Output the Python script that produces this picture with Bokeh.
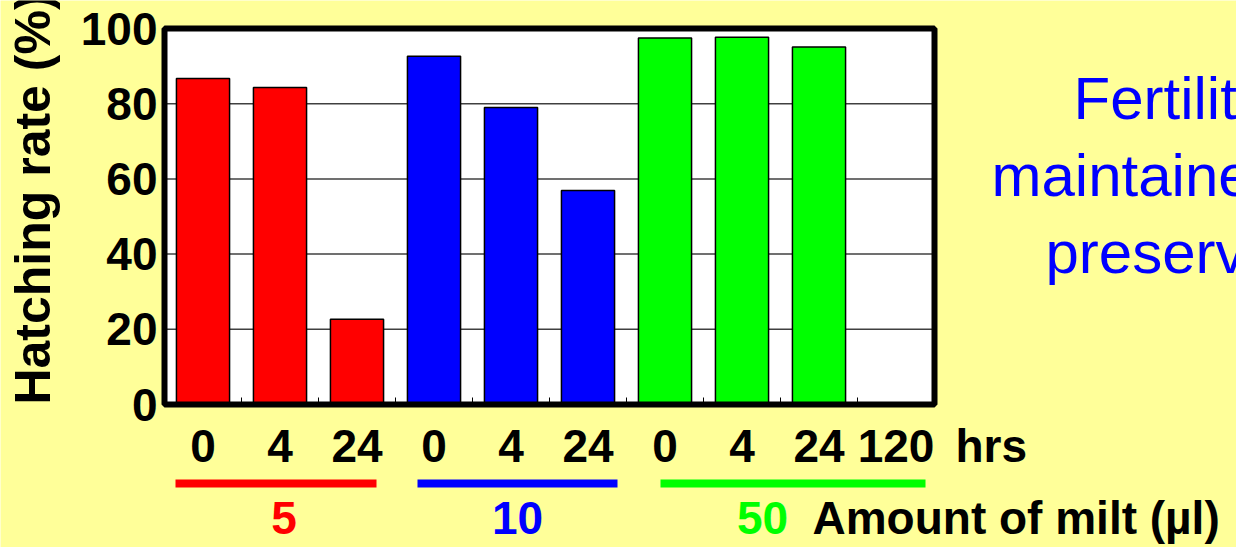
import math

from bokeh.embed import file_html
from bokeh.models import ColumnDataSource, FixedTicker, Label, LinearAxis, Range1d
from bokeh.plotting import figure
from bokeh.resources import INLINE

# Storage time (hrs) of each bar slot, grouped by the amount of milt (µl)
hours = ["0", "4", "24", "0", "4", "24", "0", "4", "24", "120"]
milt_groups = ["5", "10", "50"]
group_slots = [3, 3, 4]
group_colors = ["#FF0000", "#0000FF", "#00FF00"]
# Hatching rate (%) per slot; the 120 hrs slot has no bar
hatching_rate = [86.7, 84.3, 22.7, 92.6, 79.0, 56.9, 97.5, 97.7, 95.1, None]
y_ticks = [0, 20, 40, 60, 80, 100]
note_lines = ["Fertility is", "maintained after", "preservation"]

W, H = 1236, 547
# pixel box of the chart area on the canvas
BOX_LEFT, BOX_TOP, BOX_W, BOX_H = 164, 28, 770, 376
N = len(hours)
PX_X = BOX_W / N
PX_Y = BOX_H / 100.0


def dx(px):
    """Canvas pixel column -> data x (one unit per slot)."""
    return (px - BOX_LEFT) / PX_X


def dy(py):
    """Canvas pixel row -> data y (percent)."""
    return (BOX_TOP + BOX_H - py) / PX_Y


FONT = "Liberation Sans"
YELLOW = "#FFFF99"

# the frame fills the whole canvas, so the texts around the chart box can be placed freely
p = figure(
    width=W, height=H,
    x_range=Range1d(dx(0), dx(W)), y_range=Range1d(dy(H), dy(0)),
    output_backend="svg", toolbar_location=None,
    x_axis_location=None, y_axis_location=None,
    min_border=0,
)
p.border_fill_color = YELLOW
p.background_fill_color = YELLOW
p.outline_line_color = None
p.grid.visible = False

# white chart area
p.quad(left=0, right=N, bottom=0, top=100, fill_color="white", line_color=None)

# horizontal grid lines
grid_y = y_ticks[1:-1]
p.segment(x0=[0] * len(grid_y), x1=[N] * len(grid_y), y0=grid_y, y1=grid_y,
          line_color="#404040", line_width=1.5)

# bars
slot_colors = []
for g, n in enumerate(group_slots):
    slot_colors += [group_colors[g]] * n
xs, tops, cols = [], [], []
for i, r in enumerate(hatching_rate):
    if r is not None:
        xs.append(i + 0.5)
        tops.append(r)
        cols.append(slot_colors[i])
src = ColumnDataSource(dict(x=xs, top=tops, color=cols))
p.vbar(x="x", top="top", bottom=0, width=0.69, fill_color="color",
       line_color="black", line_width=1.5, source=src)

# thick frame around the chart area
p.quad(left=0, right=N, bottom=0, top=100, fill_color=None,
       line_color="black", line_width=6)

# y axis pinned to x = 0
yax = LinearAxis(fixed_location=0, bounds=(0, 100), ticker=FixedTicker(ticks=y_ticks))
yax.axis_line_color = None
yax.major_tick_line_color = None
yax.major_tick_out = 0
yax.major_tick_in = 0
yax.minor_tick_line_color = None
yax.major_label_standoff = 7
yax.major_label_text_font = FONT
yax.major_label_text_font_style = "bold"
yax.major_label_text_font_size = "46px"
yax.major_label_text_color = "black"
p.add_layout(yax, "left")

# x axis pinned to y = 0: hour labels at slot centres, small inward ticks between slots
centres = [i + 0.5 for i in range(N)]
xax = LinearAxis(fixed_location=0, bounds=(0, N),
                 ticker=FixedTicker(ticks=centres, minor_ticks=list(range(1, N))))
xax.major_label_overrides = {c: h for c, h in zip(centres, hours)}
xax.axis_line_color = None
xax.major_tick_line_color = None
xax.minor_tick_line_color = "black"
xax.minor_tick_in = 7
xax.minor_tick_out = 0
xax.major_label_standoff = 19
xax.major_label_text_font = FONT
xax.major_label_text_font_style = "bold"
xax.major_label_text_font_size = "46px"
xax.major_label_text_color = "black"
p.add_layout(xax, "below")

BASELINE_SHIFT = 0.39  # em offset between requested and drawn baseline


def label(px, py, text, size=46, color="black", style="bold", align="left", vertical=False):
    """Place a text by the canvas pixel of its baseline anchor."""
    shift = BASELINE_SHIFT * size
    if vertical:
        x, y, angle = dx(px - shift), dy(py), math.pi / 2
    else:
        x, y, angle = dx(px), dy(py - shift), 0.0
    p.add_layout(Label(x=x, y=y, text=text, text_font=FONT, text_font_size=f"{size}px",
                       text_font_style=style, text_color=color, text_align=align,
                       text_baseline="alphabetic", angle=angle))


# y axis title
label(52, 198.5, "Hatching rate (%)", size=50, align="center", vertical=True)

# unit of the hour labels
label(955, 463, "hrs")

# coloured underline and amount label for each milt group
underline_px = [(175, 376), (417, 617), (660, 925)]
group_label_px = [283.5, 517, 762]
for g, name in enumerate(milt_groups):
    x0, x1 = underline_px[g]
    p.segment(x0=[dx(x0)], x1=[dx(x1)], y0=[dy(483)], y1=[dy(483)],
              line_color=group_colors[g], line_width=8, line_cap="butt")
    label(group_label_px[g], 535, name, color=group_colors[g], align="center")
label(812, 535, "Amount of milt (µl)")

# note on the right
note_px = [(1073, 121), (991, 198), (1045, 275)]
for text, (x, y) in zip(note_lines, note_px):
    label(x, y, text, size=60, color="#0000FF", style="normal")

open("out.html", "w").write(file_html(p, INLINE))
